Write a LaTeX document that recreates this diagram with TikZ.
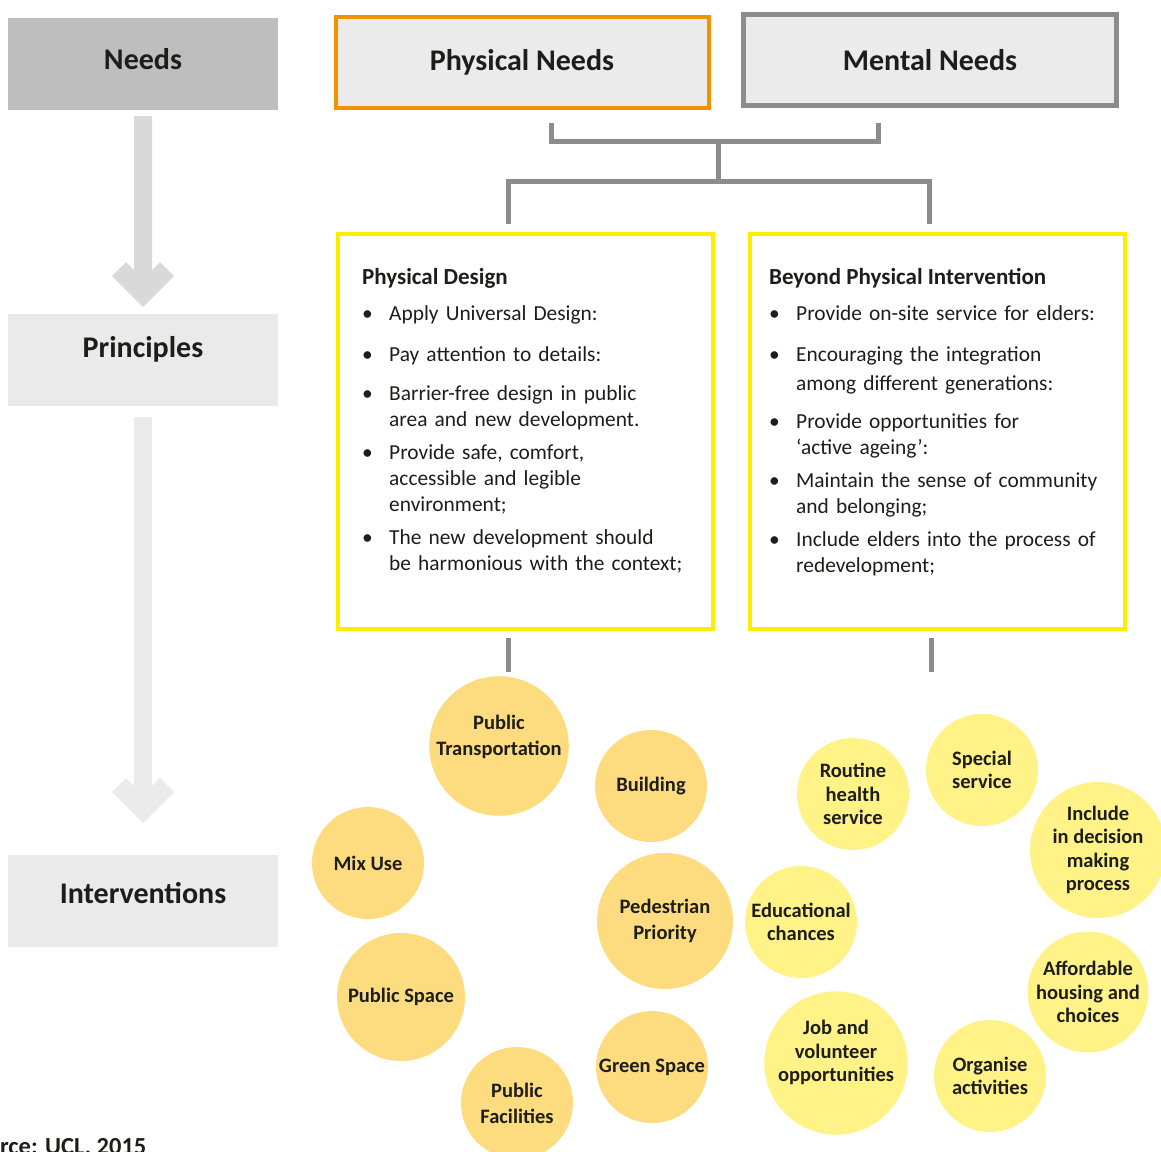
\documentclass[tikz,border=0pt]{standalone}
\usepackage{fontspec}
\setmainfont{Carlito}
\definecolor{needgray}{RGB}{191,190,191}
\definecolor{stagegray}{RGB}{234,234,234}
\definecolor{arrowdark}{RGB}{217,217,217}
\definecolor{arrowlight}{RGB}{235,235,235}
\definecolor{boxgray}{RGB}{235,235,235}
\definecolor{physorange}{RGB}{243,146,0}
\definecolor{linkgray}{RGB}{140,140,140}
\definecolor{frameyellow}{RGB}{255,237,0}
\definecolor{physbub}{RGB}{253,219,127}
\definecolor{mentbub}{RGB}{255,242,134}
\definecolor{ink}{RGB}{29,29,27}
\newcommand{\bulletmark}{\strut\makebox[27pt][l]{\textbullet}}
\newcommand{\hangline}{\hspace*{27pt}}

\begin{document}
\begin{tikzpicture}[x=1pt, y=-1pt,
    every node/.style={text=ink},
    stagebox/.style={fill=#1, minimum width=270pt, minimum height=92pt, inner sep=0pt,
      text height=22pt, font=\bfseries\fontsize{30}{36}\selectfont},
    needbox/.style={draw=#1, fill=boxgray, minimum width=373pt, minimum height=91pt,
      inner sep=0pt, font=\bfseries\fontsize{30}{36}\selectfont},
    framebox/.style={draw=frameyellow, line width=4pt, minimum width=375pt,
      minimum height=395pt, inner sep=0pt},
    boxtitle/.style={anchor=west, inner sep=0pt, font=\bfseries\fontsize{23}{26}\selectfont},
    listitem/.style={anchor=north west, inner sep=0pt, text width=350pt, align=left,
      font=\fontsize{21.4}{26}\selectfont},
    bubble/.style={circle, fill=#1, inner sep=0pt, align=center},
    physbubble/.style={bubble=physbub, font=\bfseries\fontsize{20.5}{26}\selectfont},
    mentbubble/.style={bubble=mentbub, font=\bfseries\fontsize{20.5}{23.5}\selectfont},
    link/.style={draw=linkgray, line width=5pt}]
  \useasboundingbox (0,0) rectangle (1161,1151);

  % left column
  \node[stagebox=needgray, text depth=10.6pt] (needs) at (143,64) {Needs};
  \node[stagebox=stagegray, text depth=26.6pt] (principles) at (143,360) {Principles};
  \node[stagebox=stagegray, text depth=16.6pt] (interventions) at (143,901) {Interventions};
  \foreach \ytop/\ytip/\tone in {116/307/arrowdark, 417/823/arrowlight}
    \fill[\tone] (134,\ytop) -- (152,\ytop) -- (152,{\ytip-37}) -- (160,{\ytip-45})
      -- (174,{\ytip-31}) -- (143,\ytip) -- (112,{\ytip-31}) -- (126,{\ytip-45})
      -- (134,{\ytip-37}) -- cycle;

  % needs
  \node[needbox=physorange, line width=4pt] (physical) at (522,62) {Physical Needs};
  \node[needbox=linkgray, line width=5pt] (mental) at (930,60) {Mental Needs};
  \coordinate (physfoot) at (551,123);
  \coordinate (mentfoot) at (878,123);
  \coordinate (merge) at (718,141);
  \coordinate (split) at (718,181);
  \coordinate (designhook) at (508,224);
  \coordinate (beyondhook) at (929,224);
  \draw[link] (physfoot) |- (merge) -| (mentfoot);
  \draw[link] (merge) -- (split);
  \draw[link] (designhook) |- (split) -| (beyondhook);

  % principles
  \node[framebox] (design) at (525.5,431.5) {};
  \node[framebox] (beyond) at (937,431.5) {};
  \draw[link] ([xshift=-17.5pt,yshift=-7pt]design.south) -- ++(0,34);
  \draw[link] ([xshift=-6pt,yshift=-7pt]beyond.south) -- ++(0,34);

  \node[boxtitle] (designhead) at (362,278) {Physical Design};
  \node[listitem] (design1) at (362,301.8) {\bulletmark Apply Universal Design:};
  \node[listitem] (design2) at (362,342.8) {\bulletmark Pay attention to details:};
  \node[listitem] (design3) at (362,381.8) {\bulletmark Barrier-free design in public\\\hangline area and new development.};
  \node[listitem] (design4) at (362,440.8) {\bulletmark Provide safe, comfort,\\\hangline accessible and legible\\\hangline environment;};
  \node[listitem] (design5) at (362,525.8) {\bulletmark The new development should\\\hangline be harmonious with the context;};

  \node[boxtitle] (beyondhead) at (769,278) {Beyond Physical Intervention};
  \node[listitem] (beyond1) at (769,301.8) {\bulletmark Provide on-site service for elders:};
  \node[listitem, font=\fontsize{21.4}{29}\selectfont] (beyond2) at (769,340.7) {\bulletmark Encouraging the integration\\\hangline among different generations:};
  \node[listitem] (beyond3) at (769,409.8) {\bulletmark Provide opportunities for\\\hangline ‘active ageing’:};
  \node[listitem] (beyond4) at (769,468.8) {\bulletmark Maintain the sense of community\\\hangline and belonging;};
  \node[listitem] (beyond5) at (769,527.8) {\bulletmark Include elders into the process of\\\hangline redevelopment;};

  % interventions
  \node[physbubble, minimum size=136pt] (transport) at (499,746) {Public\\Transportation\\[-5pt]\mbox{}};
  \node[physbubble, minimum size=112pt] (building) at (651,786) {Building};
  \node[physbubble, minimum size=112pt] (mixuse) at (368,863) {Mix Use};
  \node[physbubble, minimum size=136pt] (pedestrian) at (665,921) {Pedestrian\\Priority};
  \node[physbubble, minimum size=128pt] (publicspace) at (401,997) {Public Space};
  \node[physbubble, minimum size=112pt] (greenspace) at (652,1067) {Green Space};
  \node[physbubble, minimum size=112pt] (facilities) at (517,1103) {Public\\Facilities};

  \node[mentbubble, minimum size=112pt] (special) at (982,770) {Special\\service};
  \node[mentbubble, minimum size=112pt] (routine) at (853,794) {Routine\\health\\service};
  \node[mentbubble, minimum size=136pt] (include) at (1098,850) {Include\\in decision\\making\\process};
  \node[mentbubble, minimum size=112pt] (education) at (801,922) {Educational\\chances};
  \node[mentbubble, minimum size=113pt] (housing) at (1088,992) {Affordable\\housing and\\choices};
  \node[mentbubble, minimum size=128pt] (jobs) at (836,1063) {Job and\\volunteer\\opportunities\\\mbox{}};
  \node[mentbubble, minimum size=112pt] (activities) at (990,1076) {Organise\\activities};

  \node[anchor=base west, inner sep=0pt, font=\bfseries\fontsize{24.5}{28}\selectfont] (source) at (-38,1154) {Source: UCL, 2015};
\end{tikzpicture}
\end{document}
